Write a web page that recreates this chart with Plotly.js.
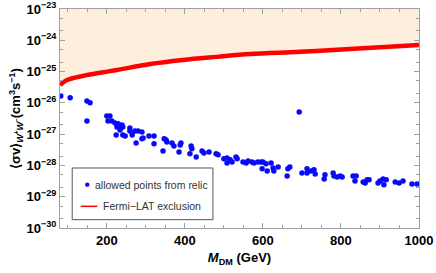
<!DOCTYPE html>
<html><head><meta charset="utf-8">
<script src="https://cdn.plot.ly/plotly-3.0.1.min.js"></script>
<style>html,body{margin:0;padding:0;background:#fff}#c{width:436px;height:273px}</style>
</head><body><div id="c"></div>
<script>
// Fermi-LAT exclusion curve (M in GeV, log10 of <sigma v>)
const limitMass = [80, 98, 139, 183, 226, 311, 395, 482, 567, 695, 823, 1000];
const limitLog  = [-25.43, -25.27, -25.14, -25.04, -24.95, -24.76, -24.63, -24.53, -24.44, -24.37, -24.28, -24.15];
const yTopValue = 1e-23;

// Allowed points from relic (M in GeV, log10 of <sigma v>)
const pointMass = [82,106,149,157,149,200,208,203,213,221,229,239,226,234,241,234,259,259,272,280,224,241,247,265,290,290,275,
  293,308,321,321,347,354,344,367,372,390,385,352,388,416,418,413,429,444,449,462,480,485,500,508,508,
  516,521,531,534,549,557,562,572,577,587,595,600,598,608,611,621,626,628,639,662,664,669,693,700,713,713,723,731,734,
  759,757,780,782,790,798,803,831,839,836,857,862,867,872,895,900,908,910,916,939,949,959,982,995];
const pointLog = [-25.78,-25.84,-25.94,-26.00,-26.58,-26.42,-26.42,-26.58,-26.58,-26.64,-26.67,-26.71,-26.77,-26.80,-26.77,-26.87,-26.80,-26.90,-26.90,-26.90,-27.03,-27.03,-27.06,-27.03,-26.93,-27.15,-27.28,
  -27.12,-27.06,-27.06,-27.31,-27.15,-27.25,-27.54,-27.28,-27.38,-27.28,-27.57,-27.19,-27.35,-27.38,-27.47,-27.63,-27.73,-27.54,-27.60,-27.57,-27.63,-27.66,-27.79,-27.76,-27.92,
  -27.82,-27.89,-27.73,-27.79,-27.89,-27.92,-27.86,-27.89,-27.92,-27.89,-27.89,-27.89,-28.11,-27.95,-28.18,-27.92,-28.08,-28.18,-28.05,-28.34,-28.11,-28.05,-26.29,-28.24,-28.11,-28.24,-28.18,-28.14,-28.27,
  -28.30,-28.43,-28.24,-28.34,-28.37,-28.34,-28.37,-28.34,-28.34,-28.50,-28.53,-28.56,-28.46,-28.46,-28.56,-28.50,-28.43,-28.62,-28.46,-28.53,-28.56,-28.50,-28.59,-28.59];

const yTickVals = [1e-30,1e-29,1e-28,1e-27,1e-26,1e-25,1e-24,1e-23];
const yTickText = ['10<sup>−30</sup>','10<sup>−29</sup>','10<sup>−28</sup>','10<sup>−27</sup>','10<sup>−26</sup>','10<sup>−25</sup>','10<sup>−24</sup>','10<sup>−23</sup>'];
const xTickVals = [200, 400, 600, 800, 1000];
const legendLabels = ['allowed points from relic', 'Fermi−LAT exclusion'];

const pow10 = a => a.map(v => Math.pow(10, v));
const limitY = pow10(limitLog);
const topY = limitMass.map(() => yTopValue);
const pointY = pow10(pointLog);

const BLUE = 'rgb(10,10,250)', RED = 'rgb(255,0,0)';
const FONT = 'Liberation Sans, Arial, sans-serif';

const traces = [
  {x: limitMass, y: topY, mode: 'lines', line: {width: 0, color: 'rgba(0,0,0,0)'}, showlegend: false, hoverinfo: 'skip'},
  {x: limitMass, y: limitY, mode: 'lines', fill: 'tonexty', fillcolor: 'rgb(254,238,222)', line: {width: 0, color: 'rgba(0,0,0,0)', shape: 'spline'}, showlegend: false, hoverinfo: 'skip'},
  {x: pointMass, y: pointY, mode: 'markers', name: legendLabels[0], marker: {color: BLUE, size: 5.5}, showlegend: false},
  {x: limitMass, y: limitY, mode: 'lines', name: legendLabels[1], line: {color: RED, width: 4.5, shape: 'spline'}, showlegend: false}
];

const axisCommon = {
  showgrid: false, zeroline: false, showline: true, linecolor: '#a0a0a0', linewidth: 1,
  ticks: 'inside', tickcolor: '#a0a0a0', ticklen: 5, mirror: 'ticks',
  tickfont: {family: FONT, size: 13, color: '#000', weight: 'bold'}
};

// Legend drawn with shapes/annotations in paper coordinates
const lg = {x0: 0.034, x1: 0.426, y0: 0.038, y1: 0.274, row1: 0.198, row2: 0.099, mx: 0.076, rx: 0.0062, ry: 0.0100};

const layout = {
  width: 436, height: 273,
  margin: {l: 60, r: 17, t: 9, b: 45},
  paper_bgcolor: '#fff', plot_bgcolor: '#fff',
  showlegend: false,
  xaxis: Object.assign({}, axisCommon, {
    range: [80, 1000], tickvals: xTickVals, ticktext: xTickVals.map(String),
    minor: {dtick: 50, tick0: 0, ticks: 'inside', ticklen: 3, tickcolor: '#a0a0a0'},
    title: {text: '<i>M</i><sub>DM</sub> (GeV)', standoff: 6, font: {family: FONT, size: 13, color: '#000', weight: 'bold'}}
  }),
  yaxis: Object.assign({}, axisCommon, {
    type: 'log', range: [-30, -23], tickvals: yTickVals, ticktext: yTickText,
    minor: {ticks: 'inside', ticklen: 3, tickcolor: '#a0a0a0', showgrid: false},
    title: {text: '⟨σv⟩<sub><i>W</i><sup>+</sup><i>W</i><sup>−</sup></sub>(cm<sup>3</sup>s<sup>−1</sup>)', standoff: 2, font: {family: FONT, size: 13, color: '#000', weight: 'bold'}}
  }),
  shapes: [
    {type: 'rect', xref: 'paper', yref: 'paper', layer: 'above', x0: lg.x0, x1: lg.x1, y0: lg.y0, y1: lg.y1, fillcolor: '#ffffff', line: {color: '#555555', width: 1}},
    {type: 'circle', xref: 'paper', yref: 'paper', layer: 'above', x0: lg.mx - lg.rx, x1: lg.mx + lg.rx, y0: lg.row1 - lg.ry, y1: lg.row1 + lg.ry, fillcolor: BLUE, line: {width: 0}},
    {type: 'line', xref: 'paper', yref: 'paper', layer: 'above', x0: 0.0577, x1: 0.104, y0: lg.row2, y1: lg.row2, line: {color: RED, width: 1.5}}
  ],
  annotations: [
    {xref: 'paper', yref: 'paper', x: 0.093, y: lg.row1, xanchor: 'left', yanchor: 'middle', showarrow: false, text: legendLabels[0], font: {family: FONT, size: 10.5, color: '#333'}},
    {xref: 'paper', yref: 'paper', x: 0.113, y: lg.row2, xanchor: 'left', yanchor: 'middle', showarrow: false, text: legendLabels[1], font: {family: FONT, size: 10.5, color: '#333'}}
  ]
};

Plotly.newPlot('c', traces, layout, {displayModeBar: false, staticPlot: true});
</script></body></html>
